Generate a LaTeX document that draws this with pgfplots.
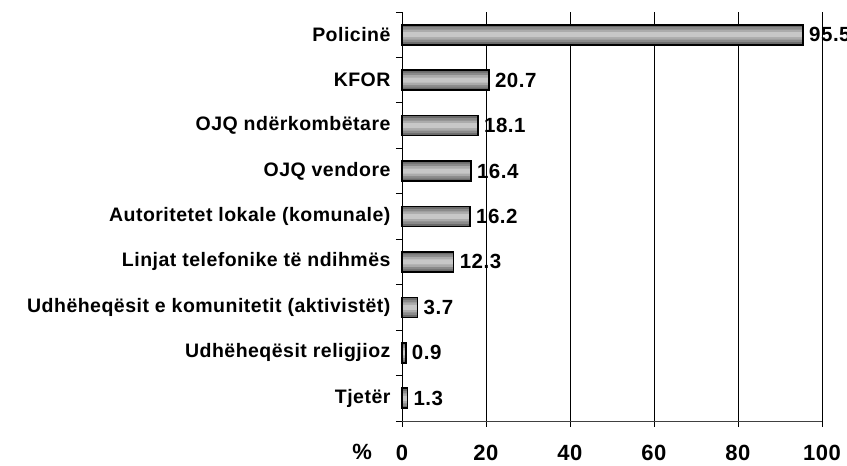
\documentclass[border=0pt]{standalone}
\usepackage{fontspec}
\setmainfont{Liberation Sans}[LetterSpace=2.5]
\usepackage{pgfplots}
\pgfplotsset{compat=1.18}

% one table, drawn several times as bands to imitate the bar shading
\pgfplotstableread{
val pos
95.5 8
20.7 7
18.1 6
16.4 5
16.2 4
12.3 3
3.7 2
0.9 1
1.3 0
}\shares

\begin{document}
\begin{tikzpicture}[font=\bfseries]
\begin{axis}[
    name=ax,
    scale only axis,
    width=420pt,
    height=409pt,
    xbar,
    bar shift=0pt,
    xmin=0, xmax=100,
    ymin=-0.5, ymax=8.5,
    clip=false,
    xtick={0,20,40,60,80,100},
    xmajorgrids=true,
    grid style={black, line width=0.8pt},
    axis x line*=bottom,
    axis y line*=left,
    axis line style={-, black, line width=0.9pt},
    x axis line style={black!75},
    tick align=outside,
    major tick length=6pt,
    tick style={black, line width=0.9pt},
    ytick={-0.5,0.5,...,8.5},
    yticklabels={},
    extra y ticks={0,1,2,3,4,5,6,7,8},
    extra y tick labels={Tjetër,Udhëheqësit religjioz,Udhëheqësit e komunitetit (aktivistët),Linjat telefonike të ndihmës,Autoritetet lokale (komunale),OJQ vendore,OJQ ndërkombëtare,KFOR,Policinë},
    extra y tick style={major tick length=0pt},
    yticklabel style={font=\fontsize{19.5}{21}\bfseries, xshift=-8pt},
    xticklabel style={font=\fontsize{22}{24}\bfseries, yshift=-15pt},
    /pgf/number format/assume math mode=true,
    xlabel={\%},
    xlabel style={at={(axis description cs:-0.095,0)}, anchor=center, yshift=-31pt, font=\fontsize{22}{24}\bfseries},
]
\addplot[fill=black!58, draw=none, bar width=20pt] table[x=val, y=pos] {\shares};
\addplot[fill=black!46, draw=none, bar width=15pt] table[x=val, y=pos] {\shares};
\addplot[fill=black!33, draw=none, bar width=10pt] table[x=val, y=pos] {\shares};
\addplot[fill=black!22, draw=none, bar width=5pt] table[x=val, y=pos] {\shares};
\addplot[fill=none, draw=black, line width=1.6pt, bar width=20pt,
    point meta=x,
    nodes near coords={\pgfmathprintnumber[fixed,fixed zerofill,precision=1]{\pgfplotspointmeta}},
    nodes near coords style={font=\fontsize{20.5}{22}\bfseries, anchor=west, black, xshift=2pt},
] table[x=val, y=pos] {\shares};
\end{axis}
\pgfresetboundingbox
\path[use as bounding box] ([xshift=-402pt,yshift=-45pt]ax.south west) rectangle ([xshift=445pt,yshift=12pt]ax.north west);
\end{tikzpicture}
\end{document}
